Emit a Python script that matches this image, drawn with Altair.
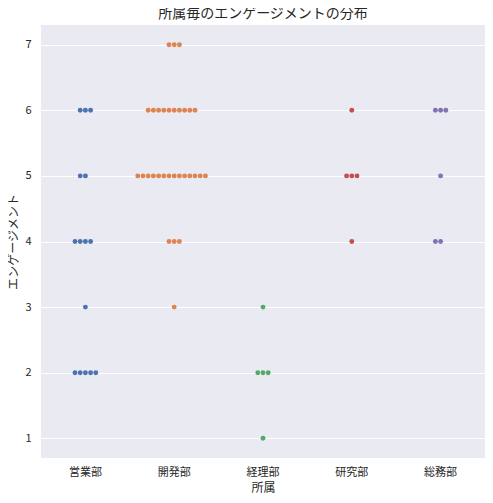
import altair as alt
import pandas as pd

departments = ["営業部", "開発部", "経理部", "研究部", "総務部"]
levels = [1, 2, 3, 4, 5, 6, 7]
# number of employees at each engagement level (1..7) per department
counts_eigyo = [0, 5, 1, 4, 2, 3, 0]
counts_kaihatsu = [0, 0, 1, 3, 14, 10, 3]
counts_keiri = [1, 3, 1, 0, 0, 0, 0]
counts_kenkyu = [0, 0, 0, 1, 3, 1, 0]
counts_soumu = [0, 0, 0, 2, 1, 3, 0]
colors = ["#4c72b0", "#dd8452", "#55a868", "#c44e52", "#8172b3"]

all_counts = [counts_eigyo, counts_kaihatsu, counts_keiri, counts_kenkyu, counts_soumu]
rows = []
for dept, cnts in zip(departments, all_counts):
    for lv, c in zip(levels, cnts):
        for _ in range(c):
            rows.append({"所属": dept, "エンゲージメント": lv})
df = pd.DataFrame(rows)

FONT = "Noto Sans CJK JP"
TXT = "#262626"
W, H = 444, 433
band = W / len(departments)

chart = (
    alt.Chart(df)
    .transform_window(
        idx="row_number()", groupby=["所属", "エンゲージメント"]
    )
    .transform_joinaggregate(n="count()", groupby=["所属", "エンゲージメント"])
    .transform_calculate(off="(datum.idx - 1 - floor(datum.n / 2)) * 5.2")
    .mark_circle(size=24, opacity=1)
    .encode(
        x=alt.X(
            "所属:N",
            sort=departments,
            scale=alt.Scale(paddingInner=0, paddingOuter=0),
            axis=alt.Axis(
                labelAngle=0,
                grid=False,
                ticks=False,
                domain=False,
                labelPadding=8,
                titlePadding=5,
                labelFontSize=11,
                titleFontSize=12,
            ),
        ),
        xOffset=alt.XOffset(
            "off:Q", scale=alt.Scale(domain=[-band / 2, band / 2])
        ),
        y=alt.Y(
            "エンゲージメント:Q",
            scale=alt.Scale(domain=[0.7, 7.3], nice=False, zero=False),
            axis=alt.Axis(
                values=levels,
                format="d",
                grid=True,
                gridColor="white",
                gridWidth=1,
                ticks=False,
                domain=False,
                labelPadding=10,
                titlePadding=4,
                labelFontSize=11,
                titleFontSize=12,
            ),
        ),
        color=alt.Color(
            "所属:N",
            sort=departments,
            scale=alt.Scale(domain=departments, range=colors),
            legend=None,
        ),
    )
    .properties(
        width=W,
        height=H,
        title=alt.TitleParams(
            "所属毎のエンゲージメントの分布",
            fontSize=14,
            font=FONT,
            color=TXT,
            fontWeight="normal",
            offset=4,
        ),
        autosize=alt.AutoSizeParams(type="none"),
        padding={"left": 33, "top": 17, "right": 0, "bottom": 36},
    )
    .configure(background="white")
    .configure_view(fill="#eaeaf2", stroke=None)
    .configure_axis(
        labelFont=FONT,
        titleFont=FONT,
        labelColor=TXT,
        titleColor=TXT,
        titleFontWeight="normal",
    )
)

chart.save("out.html", embed_options={"renderer": "svg", "actions": False})
